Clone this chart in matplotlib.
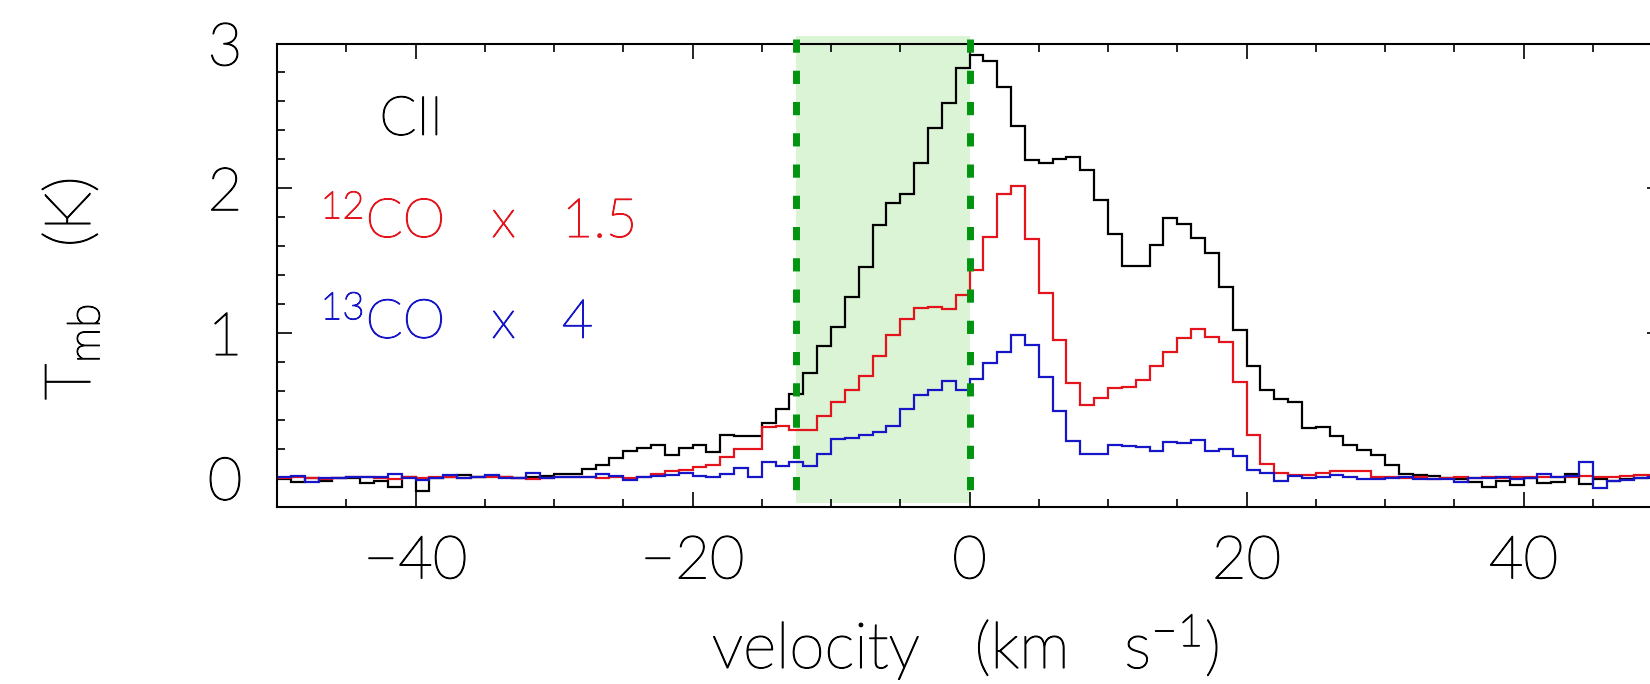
import numpy as np
import matplotlib
matplotlib.use('Agg')
import matplotlib.pyplot as plt
import matplotlib.patheffects as pe
from matplotlib.ticker import MultipleLocator
from matplotlib.patches import Rectangle

plt.rcParams['font.family'] = ['Lato', 'DejaVu Sans']
plt.rcParams['font.weight'] = 'light'
plt.rcParams['axes.labelweight'] = 'light'
plt.rcParams['mathtext.fontset'] = 'custom'
plt.rcParams['mathtext.rm'] = 'Lato:light'
plt.rcParams['mathtext.it'] = 'Lato:light:italic'
plt.rcParams['mathtext.bf'] = 'Lato:bold'

# channel edges, 1 km/s channels from -50 to 50
vel_edges = np.arange(-50, 51)

# CII spectrum (K), one value per channel starting at -50 km/s
cii = [-0.01, -0.03, 0.0, -0.02, 0.0, 0.0, -0.035, -0.02, -0.06, 0.01,
       -0.09, 0.0, 0.01, 0.02, 0.01, 0.015, 0.01, 0.0, 0.01, 0.015,
       0.025, 0.025, 0.065, 0.09, 0.138, 0.185, 0.21, 0.23, 0.161, 0.207,
       0.23, 0.177, 0.30, 0.29, 0.29, 0.38, 0.475, 0.58, 0.724, 0.913,
       1.041, 1.253, 1.46, 1.747, 1.90, 1.959, 2.172, 2.414, 2.586, 2.834,
       2.92, 2.88, 2.70, 2.43, 2.195, 2.177, 2.20, 2.218, 2.126, 1.92,
       1.683, 1.464, 1.464, 1.609, 1.793, 1.754, 1.655, 1.556, 1.317, 1.023,
       0.77, 0.609, 0.545, 0.522, 0.345, 0.35, 0.287, 0.23, 0.195, 0.16,
       0.092, 0.03, 0.023, 0.011, 0.0, -0.01, -0.03, -0.06, -0.02, -0.05,
       0.0, -0.035, -0.03, 0.03, -0.04, -0.01, -0.02, -0.01, 0.0, 0.01]

# 12CO x 1.5
co12 = [0.0, 0.005, 0.0, -0.005, 0.0, 0.005, 0.01, 0.0, -0.005, 0.005,
        0.0, 0.01, 0.005, 0.0, 0.005, 0.01, 0.005, 0.0, -0.005, 0.0,
        0.005, 0.01, 0.005, 0.0, 0.005, 0.0, 0.01, 0.028, 0.046, 0.053,
        0.076, 0.092, 0.145, 0.2, 0.2, 0.35, 0.36, 0.333, 0.329, 0.43,
        0.522, 0.605, 0.701, 0.839, 0.989, 1.097, 1.172, 1.184, 1.166, 1.262,
        1.437, 1.667, 1.959, 2.016, 1.648, 1.276, 0.954, 0.658, 0.506, 0.552,
        0.621, 0.628, 0.678, 0.770, 0.867, 0.966, 1.028, 0.977, 0.936, 0.66,
        0.299, 0.099, 0.034, 0.023, 0.023, 0.034, 0.046, 0.046, 0.046, 0.005,
        0.01, 0.0, 0.005, -0.005, 0.0, 0.005, 0.0, 0.005, 0.0, 0.005,
        0.01, 0.005, 0.01, 0.01, 0.015, 0.01, 0.01, 0.015, 0.02, 0.02]

# 13CO x 4
co13 = [0.01, 0.015, -0.025, 0.0, 0.0, 0.005, 0.007, 0.01, 0.03, 0.0,
        -0.015, 0.0, 0.023, 0.0, 0.01, 0.023, 0.0, 0.0, 0.035, 0.0,
        0.01, 0.01, 0.01, 0.03, 0.015, -0.015, 0.005, 0.015, 0.02, 0.034,
        0.015, 0.005, 0.03, 0.07, 0.01, 0.108, 0.08, 0.108, 0.085, 0.166,
        0.269, 0.276, 0.299, 0.315, 0.356, 0.476, 0.575, 0.605, 0.667, 0.609,
        0.683, 0.793, 0.867, 0.989, 0.92, 0.697, 0.465, 0.253, 0.168, 0.168,
        0.23, 0.218, 0.214, 0.184, 0.246, 0.241, 0.264, 0.184, 0.2, 0.149,
        0.053, 0.034, -0.023, 0.016, 0.0, 0.01, 0.018, 0.007, -0.007, -0.007,
        0.0, 0.01, -0.005, -0.005, -0.007, -0.03, 0.0, 0.0, 0.01, -0.007,
        0.0, 0.03, 0.01, 0.016, 0.108, -0.07, -0.02, -0.016, 0.0, 0.01]

# velocity range that is highlighted
v_lo = -12.5
v_hi = 0.0

fig = plt.figure(figsize=(16.5, 6.84), dpi=100)
ax = fig.add_axes([0.1679, 0.2588, 0.8394, 0.6776])

# shaded band, sticks out a bit above the frame
ax.add_patch(Rectangle((v_lo, -0.175), v_hi - v_lo, 3.23, facecolor='#dbf4d5',
                       edgecolor='none', zorder=0, clip_on=False))

ax.stairs(cii, vel_edges, color='black', lw=1.6, zorder=2)
ax.stairs(co12, vel_edges, color='#e3141c', lw=1.6, zorder=2)
ax.stairs(co13, vel_edges, color='#1616c8', lw=1.6, zorder=2)

for v in [v_lo, v_hi]:
    ax.plot([v, v], [3.03, -0.17], color='#009410', lw=5.0, dashes=(1.9, 2.6),
            zorder=4, clip_on=False)

ax.set_xlim(-50, 50)
ax.set_ylim(-0.2, 3)
ax.set_xticks([-40, -20, 0, 20, 40])
ax.xaxis.set_minor_locator(MultipleLocator(5))
ax.set_yticks([0, 1, 2, 3])
ax.yaxis.set_minor_locator(MultipleLocator(0.2))
ax.tick_params(which='both', direction='in', top=True, right=True, width=1.2)
ax.tick_params(which='major', length=10.8, labelsize=43)
ax.tick_params(which='minor', length=5.8)
ax.tick_params(axis='x', pad=20)
ax.tick_params(axis='y', pad=25)
for s in ax.spines.values():
    s.set_linewidth(1.5)

ax.set_xlabel('velocity   (km   s$^{-1}$)', fontsize=46)
ax.xaxis.set_label_coords(0.497, -0.225)
ax.set_ylabel('T$_{\\rm mb}$   (K)', fontsize=46)
ax.yaxis.set_label_coords(-0.126, 0.47)

t1 = ax.text(-42.6, 2.37, 'CII', fontsize=39, color='black', va='baseline')
t2 = ax.text(-46.9, 1.664, '$^{12}$CO   x   1.5', fontsize=39, color='#e3141c', va='baseline')
t3 = ax.text(-46.9, 0.968, '$^{13}$CO   x   4', fontsize=39, color='#1616c8', va='baseline')

# thin font looks too faint, give the text a slight stroke
fig.canvas.draw()
texts = ax.get_xticklabels() + ax.get_yticklabels() + [ax.xaxis.label, ax.yaxis.label]
for t in texts:
    t.set_path_effects([pe.withStroke(linewidth=0.9, foreground='black')])
for t in [t1, t2, t3]:
    t.set_path_effects([pe.withStroke(linewidth=0.9, foreground=t.get_color())])

plt.savefig('out.png', dpi=100)
